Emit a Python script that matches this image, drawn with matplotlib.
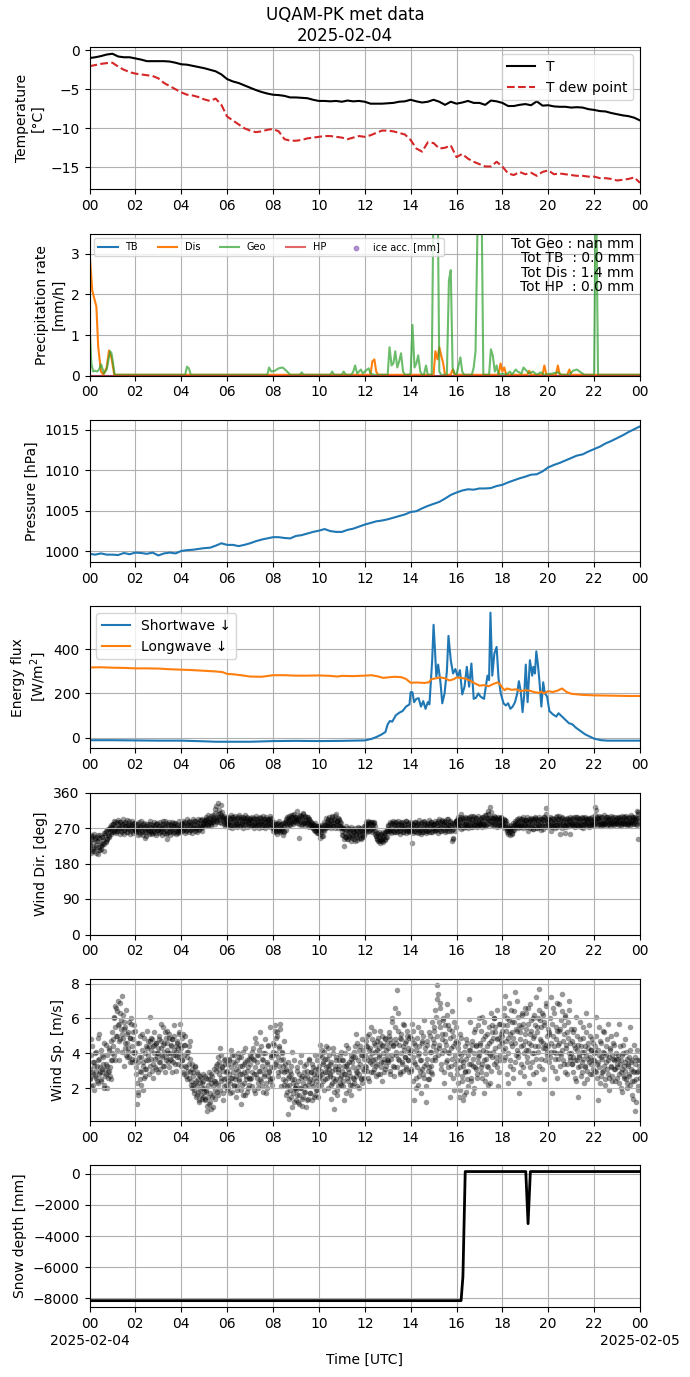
import numpy as np
import pandas as pd
import matplotlib
matplotlib.use("Agg")
import matplotlib.pyplot as plt
import matplotlib.dates as mdates

# ---------------- DATA ----------------
day_start = "2025-02-04"
title = "UQAM-PK met data\n2025-02-04"
date_labels = ["2025-02-04", "2025-02-05"]

# Temperature & dew point, every 15 minutes (°C)
temp = [-1.0, -0.9, -0.75, -0.55, -0.45, -0.8, -0.9, -0.9, -1.05, -1.2, -1.4, -1.4, -1.4, -1.4, -1.45, -1.6,
        -1.8, -1.85, -2.0, -2.15, -2.3, -2.5, -2.7, -3.1, -3.7, -4.0, -4.2, -4.5, -4.8, -5.1, -5.35, -5.55,
        -5.7, -5.75, -5.85, -6.05, -6.05, -6.1, -6.15, -6.35, -6.5, -6.5, -6.55, -6.5, -6.6, -6.45, -6.55, -6.5,
        -6.6, -6.85, -6.85, -6.85, -6.8, -6.75, -6.6, -6.55, -6.35, -6.55, -6.7, -6.6, -6.35, -6.6, -7.0, -6.6,
        -6.85, -6.7, -6.5, -6.75, -6.75, -7.0, -6.45, -6.55, -6.75, -7.15, -7.15, -7.0, -6.9, -7.05, -6.55, -7.1,
        -7.05, -7.2, -7.25, -7.25, -7.35, -7.3, -7.35, -7.55, -7.65, -7.8, -7.85, -8.05, -8.2, -8.35, -8.45, -8.65,
        -9.0]
dewpoint = [-2.05, -1.9, -1.75, -1.65, -1.6, -2.1, -2.5, -2.8, -3.0, -3.1, -3.2, -3.3, -3.6, -4.2, -4.6, -5.0,
            -5.4, -5.7, -5.8, -6.0, -6.3, -6.5, -6.2, -7.0, -8.5, -9.0, -9.5, -10.0, -10.3, -10.5, -10.4, -10.2,
            -10.1, -10.4, -11.4, -11.6, -11.6, -11.5, -11.3, -11.2, -11.1, -11.0, -11.0, -11.1, -11.2, -11.4, -11.2, -11.0,
            -11.1, -10.9, -10.6, -10.3, -10.3, -10.4, -10.6, -10.8, -11.5, -12.6, -13.0, -11.8, -11.9, -12.6, -12.5, -12.2,
            -13.7, -13.3, -13.9, -14.3, -14.6, -14.9, -14.9, -14.3, -14.9, -15.8, -16.0, -15.6, -15.9, -15.7, -16.1, -15.6,
            -15.4, -15.9, -15.8, -15.9, -16.0, -16.1, -16.1, -16.2, -16.2, -16.4, -16.4, -16.5, -16.7, -16.6, -16.5, -16.3,
            -17.0]

# Precipitation rates (mm/h): (hour, value) points
tb_t = [0.0, 24.0]
tb_v = [0.0, 0.0]
hp_t = [0.0, 24.0]
hp_v = [0.0, 0.0]
ice_t = []
ice_v = []
dis_t = [0.0, 0.12, 0.3, 0.38, 0.5, 0.6, 0.75, 0.85, 0.96, 1.08,
         12.25, 12.33, 12.42, 12.5, 12.58,
         15.0, 15.08, 15.17, 15.25, 15.33, 15.42, 15.5, 15.75, 15.83, 15.92,
         17.83, 17.92, 18.0, 18.08, 18.17, 19.08, 19.17, 19.25, 19.75, 19.83, 19.92,
         20.33, 20.42, 20.5, 20.83, 20.92, 21.0, 24.0]
dis_v = [3.05, 2.1, 1.7, 0.7, 0.1, 0.02, 0.2, 0.62, 0.43, 0.02,
         0.02, 0.35, 0.4, 0.1, 0.02,
         0.02, 0.6, 0.4, 0.7, 0.5, 0.3, 0.02, 0.02, 0.15, 0.02,
         0.02, 0.3, 0.1, 0.2, 0.02, 0.02, 0.12, 0.02, 0.02, 0.25, 0.02,
         0.02, 0.25, 0.02, 0.02, 0.15, 0.02, 0.02]
geo_t = [0.0, 0.08, 0.16, 0.23, 0.33, 0.42, 0.5, 0.58, 0.63, 0.75, 0.83, 0.9, 0.96, 1.1,
         4.17, 4.25, 4.33, 4.42, 7.75, 7.83, 7.92, 8.08, 8.25, 8.42, 8.58, 8.75,
         9.17, 9.25, 9.33, 10.5, 10.58, 10.67, 11.0, 11.08, 11.17, 11.42, 11.5, 11.58, 11.67,
         11.83, 11.92, 12.0, 12.17, 12.25, 12.42, 13.0, 13.08, 13.17, 13.25, 13.33, 13.42,
         13.5, 13.58, 13.67, 13.75, 13.92, 14.0, 14.08, 14.17, 14.25, 14.33, 14.42, 14.5,
         14.58, 14.67, 14.75, 14.92, 15.0, 15.08, 15.17, 15.25, 15.33, 15.58, 15.67, 15.75,
         15.83, 15.92, 16.0, 16.17, 16.25, 16.33, 16.67, 16.75, 16.83, 16.92, 17.0, 17.08,
         17.17, 17.42, 17.5, 17.58, 17.67, 17.75, 17.83, 18.0, 18.17, 18.33, 18.42, 18.58,
         18.67, 18.83, 18.92, 19.0, 19.17, 19.33, 19.5, 19.67, 19.83, 20.17, 20.42, 20.58,
         20.92, 21.08, 21.25, 21.42, 21.58, 22.0, 22.08, 22.17, 24.0]
geo_v = [1.3, 0.3, 0.1, 0.12, 0.1, 0.15, 0.28, 0.15, 0.05, 0.15, 0.4, 0.6, 0.55, 0.02,
         0.02, 0.22, 0.18, 0.02, 0.02, 0.2, 0.1, 0.12, 0.18, 0.2, 0.12, 0.02,
         0.02, 0.08, 0.02, 0.02, 0.1, 0.02, 0.02, 0.1, 0.02, 0.02, 0.1, 0.25, 0.05,
         0.15, 0.05, 0.1, 0.18, 0.05, 0.02, 0.02, 0.7, 0.25, 0.3, 0.6, 0.2,
         0.35, 0.55, 0.1, 0.02, 0.02, 0.05, 1.25, 0.2, 0.3, 0.5, 0.1, 0.02,
         0.02, 0.25, 0.02, 0.02, 4.5, 6.0, 5.0, 0.1, 0.02, 0.02, 2.35, 2.6,
         0.2, 0.05, 0.02, 0.45, 0.1, 0.02, 0.02, 0.2, 0.6, 3.8, 5.0, 5.0,
         0.02, 0.02, 0.65, 0.5, 0.1, 0.25, 0.02, 0.05, 0.02, 0.1, 0.02, 0.15,
         0.1, 0.05, 0.2, 0.15, 0.05, 0.1, 0.02, 0.08, 0.02, 0.05, 0.08, 0.02,
         0.02, 0.12, 0.15, 0.08, 0.02, 0.02, 5.0, 0.02, 0.02]
totals_text = "Tot Geo : nan mm\nTot TB  : 0.0 mm\nTot Dis : 1.4 mm\nTot HP  : 0.0 mm"

# Pressure every 15 minutes (hPa)
pressure = [999.7, 999.6, 999.75, 999.6, 999.6, 999.55, 999.8, 999.65, 999.85, 999.8, 999.7, 999.85, 999.5, 999.75,
            999.85, 999.75, 1000.05, 1000.15, 1000.2, 1000.3, 1000.4, 1000.45, 1000.7, 1001.0, 1000.8, 1000.8,
            1000.65, 1000.8, 1001.0, 1001.25, 1001.45, 1001.6, 1001.75, 1001.75, 1001.65, 1001.6, 1001.9, 1002.0,
            1002.2, 1002.4, 1002.55, 1002.75, 1002.5, 1002.4, 1002.4, 1002.65, 1002.8, 1003.05, 1003.3, 1003.5,
            1003.7, 1003.8, 1003.95, 1004.15, 1004.35, 1004.55, 1004.85, 1004.95, 1005.3, 1005.6, 1005.85, 1006.1,
            1006.5, 1006.95, 1007.25, 1007.5, 1007.65, 1007.6, 1007.75, 1007.75, 1007.8, 1008.05, 1008.2, 1008.5,
            1008.75, 1009.0, 1009.2, 1009.45, 1009.5, 1009.85, 1010.35, 1010.65, 1010.9, 1011.2, 1011.5, 1011.8,
            1011.95, 1012.3, 1012.6, 1012.9, 1013.3, 1013.6, 1013.95, 1014.3, 1014.7, 1015.05, 1015.4]

# Radiation (W/m2): (hour, value)
sw_t = [0, 1, 2, 3, 4, 5, 5.5, 6, 7, 8, 9, 10, 11, 12, 12.3, 12.5, 12.7, 12.9, 13.0, 13.1, 13.2, 13.35,
        13.5, 13.65, 13.8, 13.95, 14.0, 14.08, 14.15, 14.25, 14.35, 14.45, 14.55, 14.65, 14.75, 14.82,
        14.88, 14.94, 15.0, 15.06, 15.12, 15.2, 15.3, 15.38, 15.48, 15.58, 15.65, 15.75, 15.85, 15.95,
        16.05, 16.15, 16.25, 16.35, 16.45, 16.55, 16.65, 16.75, 16.85, 16.95, 17.05, 17.2, 17.35, 17.42,
        17.48, 17.56, 17.65, 17.75, 17.83, 17.93, 18.05, 18.15, 18.25, 18.35, 18.45, 18.55, 18.65, 18.72,
        18.8, 18.88, 18.95, 19.02, 19.1, 19.2, 19.3, 19.35, 19.42, 19.48, 19.55, 19.62, 19.7, 19.78, 19.85,
        19.95, 20.05, 20.2, 20.35, 20.45, 20.6, 20.75, 20.9, 21.05, 21.2, 21.4, 21.6, 21.8, 22.0, 22.3,
        22.6, 23.0, 23.5, 24.0]
sw_v = [-12, -12, -13, -14, -14, -17, -19, -19, -19, -16, -15, -16, -15, -13, -6, 2, 12, 25, 60, 75, 72, 100,
        112, 120, 140, 150, 205, 205, 160, 175, 178, 140, 165, 130, 160, 150,
        250, 350, 510, 400, 275, 330, 250, 155, 200, 300, 460, 350, 290, 310,
        275, 305, 195, 230, 320, 230, 335, 175, 180, 200, 185, 175, 280, 260,
        565, 280, 380, 410, 270, 200, 155, 145, 155, 130, 140, 160, 200, 255,
        210, 115, 190, 330, 160, 350, 280, 320, 290, 390, 330, 250, 140, 250, 200,
        185, 120, 105, 95, 110, 95, 80, 65, 60, 45, 30, 15, 5, -5, -12,
        -14, -14, -14, -14]
lw_t = [0, 0.5, 1, 1.5, 2, 2.5, 3, 3.5, 4, 4.5, 5, 5.5, 5.8, 6, 6.3, 6.6, 7, 7.5, 7.8, 8, 8.5, 9, 9.5, 10,
        10.5, 10.8, 11, 11.5, 12, 12.3, 12.6, 12.8, 13.0, 13.3, 13.6, 13.8, 14.0, 14.3, 14.6, 14.8, 14.9,
        15.1, 15.3, 15.5, 15.7, 15.9, 16.0, 16.2, 16.4, 16.6, 16.8, 17.0, 17.2, 17.4, 17.6, 17.8, 17.9,
        18.0, 18.1, 18.2, 18.4, 18.6, 18.8, 19.0, 19.2, 19.4, 19.6, 19.7, 19.8, 20.0, 20.2, 20.4, 20.6,
        20.8, 21.0, 21.5, 22, 22.5, 23, 23.5, 24]
lw_v = [317, 318, 316, 315, 313, 313, 312, 309, 307, 305, 302, 299, 296, 288, 286, 282, 276, 275, 279, 282,
        282, 280, 280, 281, 279, 276, 279, 278, 280, 282, 276, 270, 272, 275, 273, 265, 248, 249, 247, 250,
        264, 268, 272, 268, 258, 265, 272, 270, 266, 257, 245, 235, 237, 232, 242, 250, 240, 225, 214, 222,
        216, 218, 210, 214, 212, 205, 202, 208, 200, 210, 206, 212, 222, 206, 198, 193, 191, 190, 189, 188, 188]

# Wind, one row per hour: "a" rows at even minutes, "b" rows at odd minutes (30 values each)
wind_dir_a = [
    [238, 225, 246, 212, 233, 250, 219, 241, 228, 207, 236, 252, 222, 244, 215, 230, 248, 226, 240, 211, 257, 235, 262, 243, 251, 268, 247, 259, 270, 262],
    [272, 281, 265, 276, 284, 270, 262, 279, 273, 268, 286, 275, 259, 271, 280, 266, 274, 283, 269, 261, 277, 272, 288, 267, 275, 264, 279, 270, 282, 266],
    [270, 263, 276, 268, 281, 259, 272, 266, 274, 261, 278, 269, 264, 245, 271, 260, 275, 267, 279, 263, 270, 258, 273, 266, 262, 276, 269, 280, 265, 271],
    [266, 274, 260, 271, 279, 268, 262, 275, 270, 287, 264, 243, 258, 277, 269, 263, 281, 271, 266, 274, 260, 283, 268, 272, 265, 278, 262, 270, 275, 267],
    [271, 279, 265, 276, 283, 270, 262, 280, 274, 268, 286, 272, 277, 264, 281, 269, 275, 289, 271, 266, 278, 284, 273, 268, 280, 276, 290, 272, 279, 283],
    [280, 287, 292, 283, 291, 278, 289, 284, 293, 281, 290, 286, 298, 291, 318, 296, 326, 290, 333, 299, 293, 307, 329, 297, 296, 291, 284, 292, 287, 281],
    [289, 281, 296, 285, 277, 292, 284, 299, 280, 288, 274, 293, 286, 281, 297, 290, 283, 276, 294, 287, 280, 298, 285, 291, 279, 288, 295, 282, 290, 284],
    [283, 290, 277, 288, 294, 281, 286, 275, 292, 284, 279, 289, 296, 282, 287, 278, 291, 285, 280, 293, 286, 276, 289, 283, 290, 281, 287, 294, 279, 285],
    [275, 268, 279, 264, 272, 281, 267, 274, 262, 277, 270, 266, 279, 273, 261, 276, 282, 288, 279, 295, 286, 293, 291, 284, 297, 289, 303, 293, 287, 299],
    [293, 313, 288, 296, 245, 290, 301, 285, 294, 308, 289, 282, 297, 291, 286, 299, 284, 292, 280, 288, 275, 283, 270, 278, 266, 274, 262, 271, 258, 268],
    [264, 272, 245, 259, 268, 250, 275, 262, 280, 271, 286, 277, 290, 282, 274, 288, 279, 300, 284, 276, 291, 283, 305, 278, 287, 280, 293, 274, 284, 270],
    [262, 251, 270, 224, 257, 246, 265, 253, 241, 260, 249, 268, 255, 244, 262, 250, 259, 238, 266, 254, 247, 261, 252, 270, 257, 245, 263, 256, 249, 266],
    [266, 275, 262, 281, 270, 284, 273, 279, 268, 286, 277, 271, 283, 274, 265, 250, 243, 256, 238, 248, 252, 241, 236, 249, 244, 253, 240, 258, 247, 262],
    [268, 275, 262, 279, 270, 283, 266, 273, 259, 277, 286, 269, 274, 263, 280, 271, 265, 278, 284, 270, 261, 276, 268, 273, 288, 266, 272, 279, 263, 275],
    [273, 266, 231, 278, 270, 262, 285, 274, 268, 257, 279, 271, 264, 282, 275, 260, 269, 287, 272, 266, 278, 263, 274, 281, 268, 276, 259, 284, 271, 277],
    [270, 279, 265, 283, 274, 268, 288, 276, 262, 281, 273, 290, 269, 277, 284, 266, 275, 292, 271, 280, 263, 278, 286, 272, 237, 267, 245, 281, 274, 289],
    [281, 290, 276, 286, 294, 279, 305, 284, 271, 293, 287, 278, 296, 283, 275, 289, 298, 280, 286, 273, 291, 284, 300, 277, 288, 295, 282, 276, 290, 285],
    [286, 279, 293, 284, 298, 281, 290, 275, 302, 287, 294, 312, 283, 291, 322, 288, 296, 285, 292, 280, 289, 297, 284, 291, 278, 293, 286, 281, 295, 288],
    [284, 278, 291, 282, 275, 289, 280, 271, 264, 259, 268, 262, 256, 270, 265, 274, 281, 277, 286, 279, 291, 283, 274, 288, 280, 276, 293, 284, 279, 287],
    [281, 290, 274, 285, 262, 279, 288, 276, 293, 281, 268, 286, 277, 296, 283, 270, 289, 281, 275, 292, 284, 266, 279, 290, 283, 298, 276, 320, 287, 282],
    [284, 278, 291, 262, 286, 279, 293, 282, 274, 289, 285, 300, 277, 292, 283, 256, 288, 280, 295, 284, 276, 290, 258, 286, 281, 294, 279, 287, 255, 290],
    [286, 279, 293, 283, 275, 290, 285, 298, 281, 288, 276, 292, 284, 280, 296, 287, 271, 289, 283, 294, 279, 286, 291, 282, 277, 295, 288, 284, 292, 280],
    [289, 322, 315, 284, 293, 287, 280, 296, 289, 283, 298, 285, 291, 279, 294, 287, 283, 297, 290, 285, 280, 293, 288, 284, 296, 282, 291, 287, 294, 283],
    [288, 282, 295, 286, 291, 279, 293, 287, 284, 297, 289, 283, 292, 286, 280, 295, 288, 284, 291, 298, 285, 290, 282, 294, 287, 292, 312, 241, 305, 289],
]
wind_dir_b = [
    [228, 251, 206, 241, 217, 255, 212, 244, 221, 248, 203, 236, 214, 252, 225, 218, 247, 233, 258, 229, 253, 238, 264, 242, 268, 250, 273, 255, 277, 260],
    [281, 261, 289, 266, 257, 284, 263, 291, 270, 255, 286, 262, 279, 293, 265, 254, 284, 276, 259, 290, 268, 283, 256, 278, 262, 288, 275, 258, 282, 267],
    [259, 280, 264, 252, 284, 273, 256, 287, 262, 279, 253, 283, 260, 276, 250, 281, 266, 255, 287, 263, 279, 254, 277, 261, 286, 257, 280, 251, 283, 264],
    [276, 257, 284, 262, 252, 280, 288, 258, 275, 283, 255, 263, 281, 259, 286, 253, 278, 263, 285, 257, 274, 282, 254, 279, 261, 258, 287, 266, 260, 281],
    [282, 262, 289, 268, 258, 286, 265, 293, 279, 261, 288, 264, 284, 267, 257, 292, 281, 263, 288, 270, 261, 294, 283, 266, 290, 271, 262, 293, 274, 289],
    [290, 276, 298, 281, 302, 277, 296, 283, 275, 300, 285, 304, 295, 279, 309, 288, 284, 306, 297, 316, 286, 303, 282, 310, 299, 280, 301, 276, 295, 279],
    [280, 298, 273, 294, 302, 278, 271, 297, 292, 275, 301, 281, 272, 296, 279, 303, 275, 294, 299, 279, 270, 296, 277, 302, 292, 273, 298, 281, 274, 295],
    [293, 274, 299, 278, 271, 296, 280, 301, 275, 294, 277, 270, 298, 279, 295, 273, 301, 277, 293, 271, 299, 278, 294, 274, 292, 300, 272, 295, 278, 269],
    [263, 284, 259, 281, 262, 255, 283, 264, 287, 259, 280, 262, 252, 282, 263, 286, 266, 292, 298, 275, 301, 281, 277, 303, 282, 299, 279, 305, 284, 294],
    [297, 282, 291, 300, 281, 302, 277, 298, 280, 306, 282, 276, 301, 283, 279, 299, 273, 294, 277, 284, 275, 280, 271, 277, 262, 282, 265, 274, 257, 276],
    [274, 254, 278, 249, 272, 266, 285, 277, 270, 296, 274, 294, 272, 299, 278, 270, 290, 297, 274, 293, 271, 300, 278, 287, 295, 269, 291, 274, 282, 272],
    [252, 271, 243, 267, 248, 274, 241, 265, 269, 246, 263, 238, 272, 249, 267, 242, 259, 269, 252, 239, 265, 272, 245, 262, 270, 243, 266, 247, 274, 251],
    [276, 284, 259, 279, 288, 262, 282, 265, 286, 260, 280, 285, 263, 256, 249, 241, 257, 236, 260, 239, 233, 256, 240, 261, 235, 257, 242, 263, 247, 266],
    [278, 260, 285, 264, 257, 282, 262, 287, 279, 259, 265, 284, 261, 289, 281, 263, 256, 283, 278, 260, 285, 264, 280, 258, 287, 263, 282, 265, 261, 284],
    [263, 283, 257, 280, 262, 286, 278, 259, 282, 264, 290, 261, 279, 255, 284, 265, 260, 286, 280, 263, 257, 283, 264, 291, 261, 279, 285, 259, 281, 264],
    [281, 262, 288, 265, 283, 258, 292, 267, 285, 262, 281, 289, 264, 284, 259, 287, 280, 263, 293, 270, 278, 288, 262, 283, 265, 242, 280, 286, 263, 289],
    [290, 272, 297, 277, 293, 268, 298, 275, 295, 279, 273, 299, 280, 276, 296, 271, 294, 278, 301, 275, 292, 273, 298, 279, 277, 295, 272, 300, 280, 275],
    [277, 296, 279, 273, 299, 281, 278, 302, 275, 295, 280, 305, 296, 279, 311, 298, 277, 295, 275, 300, 280, 296, 273, 293, 299, 278, 295, 276, 297, 279],
    [275, 293, 270, 290, 273, 266, 260, 255, 276, 252, 271, 278, 257, 274, 283, 265, 289, 273, 294, 276, 270, 295, 278, 273, 292, 275, 297, 271, 291, 274],
    [291, 272, 298, 275, 293, 270, 289, 296, 273, 292, 267, 290, 297, 274, 293, 271, 291, 298, 277, 273, 294, 275, 268, 292, 299, 276, 294, 306, 273, 292],
    [293, 275, 299, 278, 272, 296, 276, 293, 271, 298, 278, 273, 294, 277, 300, 274, 292, 270, 297, 279, 275, 294, 277, 273, 296, 278, 293, 274, 298, 279],
    [277, 295, 274, 297, 279, 272, 299, 278, 294, 275, 296, 277, 273, 298, 280, 276, 295, 279, 299, 274, 293, 278, 296, 273, 294, 279, 276, 297, 281, 278],
    [294, 302, 279, 297, 277, 295, 300, 280, 275, 298, 281, 278, 303, 283, 279, 297, 277, 294, 299, 280, 276, 301, 283, 279, 297, 281, 278, 298, 282, 296],
    [280, 297, 278, 299, 282, 276, 301, 283, 279, 297, 281, 300, 277, 296, 280, 298, 282, 278, 302, 281, 297, 279, 295, 299, 280, 296, 278, 310, 282, 298],
]
wind_speed_a = [
    [3.1, 2.6, 4.8, 2.9, 3.5, 2.2, 3.3, 2.7, 4.1, 3.0, 2.4, 3.6, 2.8, 5.1, 3.2, 2.5, 3.9, 2.9, 3.4, 2.0, 3.1, 4.5, 2.8, 3.3, 2.6, 4.2, 3.0, 2.7, 4.7, 3.6],
    [5.2, 4.8, 6.1, 5.5, 3.6, 6.6, 5.0, 7.0, 5.7, 4.7, 6.3, 5.4, 7.3, 5.1, 4.9, 5.8, 4.3, 5.5, 3.9, 4.6, 5.2, 4.1, 3.8, 4.9, 5.7, 4.4, 3.5, 4.8, 4.0, 5.3],
    [4.1, 2.8, 1.1, 3.5, 1.8, 4.6, 3.0, 2.2, 3.8, 5.1, 3.3, 2.6, 4.0, 3.1, 3.6, 4.3, 4.7, 3.9, 4.4, 6.1, 3.7, 4.2, 4.8, 3.4, 4.5, 4.0, 3.2, 4.6, 3.8, 4.3],
    [4.0, 4.8, 3.5, 4.3, 5.7, 3.9, 4.5, 3.3, 4.1, 5.2, 3.8, 4.6, 4.2, 3.5, 4.9, 4.0, 3.6, 4.4, 4.8, 3.9, 4.2, 5.0, 3.4, 4.1, 4.6, 3.8, 4.3, 5.1, 5.7, 4.0],
    [4.3, 3.6, 5.1, 3.9, 2.8, 4.5, 3.2, 3.8, 2.5, 4.1, 3.4, 2.9, 4.7, 2.4, 3.1, 2.2, 2.7, 1.9, 3.2, 2.4, 1.6, 2.1, 2.8, 1.3, 2.3, 1.9, 2.6, 2.0, 1.5, 2.4],
    [2.0, 1.4, 2.6, 1.8, 0.7, 2.2, 1.1, 2.5, 1.7, 2.8, 1.5, 2.1, 0.9, 2.4, 1.9, 3.0, 2.3, 3.4, 1.6, 2.8, 3.1, 4.3, 2.6, 3.3, 1.3, 3.0, 2.5, 3.7, 2.9, 2.2],
    [3.0, 2.4, 3.6, 2.8, 1.7, 3.2, 2.6, 3.9, 2.9, 2.1, 3.4, 2.7, 3.1, 1.9, 3.0, 2.5, 3.8, 2.8, 1.1, 3.3, 2.2, 4.1, 2.9, 1.6, 3.5, 2.7, 3.0, 2.0, 3.7, 2.6],
    [3.4, 2.6, 4.1, 2.9, 3.7, 1.9, 3.2, 4.9, 2.8, 3.5, 2.3, 3.9, 3.0, 2.5, 4.4, 3.3, 2.1, 3.6, 2.8, 4.0, 3.1, 1.7, 3.4, 2.7, 4.5, 3.0, 2.4, 3.8, 3.2, 2.6],
    [3.9, 4.5, 5.6, 3.4, 4.9, 5.2, 3.8, 2.7, 4.3, 5.7, 3.6, 2.1, 4.0, 3.3, 4.7, 2.9, 2.4, 3.1, 1.8, 2.6, 0.5, 2.2, 3.0, 1.5, 2.8, 4.1, 2.3, 1.2, 2.5, 2.0],
    [2.2, 1.6, 3.0, 2.4, 1.1, 2.0, 3.9, 2.6, 1.4, 2.3, 2.9, 1.8, 2.1, 3.4, 1.3, 2.7, 2.2, 3.6, 2.5, 1.7, 2.9, 2.3, 3.2, 1.5, 2.6, 3.9, 2.4, 2.8, 1.9, 3.1],
    [3.3, 2.7, 4.5, 3.0, 3.8, 2.4, 3.5, 4.1, 2.9, 3.2, 3.7, 2.6, 4.3, 3.1, 2.8, 3.4, 2.2, 3.0, 4.3, 2.6, 0.8, 3.1, 2.5, 3.6, 1.9, 2.9, 3.3, 2.3, 3.9, 2.7],
    [3.0, 2.4, 3.6, 1.3, 2.8, 3.3, 4.5, 2.6, 3.1, 1.9, 3.5, 2.7, 3.9, 2.2, 3.2, 3.8, 2.5, 4.4, 3.0, 5.1, 2.9, 3.6, 2.0, 4.2, 3.4, 2.6, 3.9, 4.8, 3.1, 3.7],
    [3.9, 4.4, 3.2, 5.0, 3.6, 2.4, 4.2, 3.8, 5.5, 3.4, 4.0, 2.9, 4.6, 3.7, 4.1, 3.3, 4.7, 2.8, 4.3, 3.9, 5.3, 3.5, 4.5, 2.4, 4.0, 3.7, 4.8, 3.1, 4.2, 3.6],
    [4.3, 3.6, 5.0, 2.8, 4.6, 6.0, 3.9, 4.4, 3.2, 6.6, 4.8, 4.1, 7.6, 3.7, 5.3, 4.5, 2.9, 4.0, 4.8, 3.5, 5.7, 4.2, 3.8, 4.6, 3.1, 5.0, 4.3, 3.6, 4.9, 4.0],
    [4.2, 3.1, 5.7, 3.8, 1.3, 4.6, 3.4, 2.6, 4.9, 3.9, 2.2, 4.4, 3.0, 5.2, 3.6, 4.7, 2.8, 3.3, 5.9, 4.0, 1.2, 3.7, 4.5, 2.5, 3.2, 5.0, 4.1, 2.9, 3.6, 4.8],
    [4.6, 5.3, 3.8, 6.1, 7.9, 5.0, 7.4, 4.3, 6.6, 5.5, 3.1, 4.8, 6.0, 4.2, 2.3, 5.1, 4.5, 6.8, 3.6, 5.6, 4.0, 1.5, 4.9, 3.3, 5.3, 4.4, 2.6, 5.8, 3.9, 4.7],
    [3.6, 2.8, 4.3, 1.5, 3.2, 5.1, 3.9, 2.4, 1.3, 3.5, 4.1, 2.9, 3.7, 1.8, 4.6, 3.0, 3.4, 7.1, 4.2, 2.6, 4.7, 3.3, 1.7, 4.0, 5.4, 3.1, 4.5, 2.8, 3.8, 6.0],
    [3.9, 4.6, 2.9, 6.1, 3.4, 4.2, 1.7, 5.0, 3.7, 2.8, 4.4, 3.2, 5.5, 4.0, 2.3, 4.7, 5.6, 3.8, 4.9, 6.0, 4.3, 5.2, 3.5, 4.8, 2.1, 5.7, 4.4, 3.9, 5.1, 4.6],
    [5.0, 4.2, 6.2, 3.8, 7.3, 4.7, 5.6, 2.3, 4.9, 5.9, 3.6, 6.5, 4.4, 5.2, 3.1, 5.8, 4.6, 7.5, 3.9, 5.3, 6.1, 4.0, 1.7, 4.8, 5.5, 3.4, 6.3, 4.5, 2.7, 5.1],
    [4.7, 5.4, 3.8, 6.6, 4.2, 2.3, 5.1, 4.5, 5.9, 3.5, 4.9, 6.2, 4.0, 5.6, 2.9, 5.2, 4.4, 6.0, 7.7, 4.8, 5.5, 3.7, 6.3, 4.6, 2.5, 5.8, 4.3, 6.9, 5.0, 4.1],
    [4.4, 5.1, 3.8, 7.2, 4.6, 1.7, 5.0, 4.1, 6.3, 3.7, 4.8, 5.3, 2.6, 4.5, 6.8, 4.0, 5.4, 3.9, 7.4, 4.7, 5.6, 3.4, 6.1, 4.3, 2.8, 5.2, 4.9, 6.5, 3.6, 4.6],
    [4.0, 3.4, 5.2, 3.8, 4.5, 2.6, 6.1, 3.6, 4.2, 1.5, 3.9, 4.8, 3.3, 4.4, 2.9, 5.5, 3.7, 4.1, 3.2, 6.3, 3.9, 2.5, 4.3, 3.5, 5.0, 3.8, 4.2, 2.8, 3.6, 4.6],
    [3.6, 4.1, 2.9, 6.1, 3.4, 1.3, 3.9, 3.2, 4.7, 2.7, 3.7, 5.3, 3.0, 4.0, 2.2, 3.5, 4.4, 3.1, 5.7, 3.8, 2.6, 4.2, 3.3, 3.9, 2.4, 4.6, 3.6, 3.1, 5.1, 3.7],
    [3.2, 3.7, 2.8, 5.7, 3.4, 2.0, 3.9, 3.1, 4.5, 2.6, 3.5, 3.0, 4.1, 2.3, 3.3, 3.8, 2.7, 5.5, 3.1, 2.4, 3.6, 1.4, 2.9, 0.7, 3.4, 2.5, 4.2, 3.0, 1.9, 3.6],
]
wind_speed_b = [
    [2.5, 3.9, 2.1, 4.4, 2.8, 3.5, 1.9, 4.0, 2.6, 3.3, 4.9, 2.3, 3.7, 2.9, 4.2, 2.4, 3.1, 3.8, 2.2, 4.6, 2.7, 3.4, 2.0, 3.9, 2.9, 4.3, 3.2, 2.5, 3.6, 4.0],
    [4.4, 6.0, 3.9, 6.7, 5.0, 4.2, 6.4, 5.6, 3.6, 6.9, 4.8, 5.9, 4.1, 6.2, 3.3, 5.4, 4.6, 6.5, 3.8, 5.1, 4.3, 5.8, 3.5, 4.9, 6.0, 3.7, 5.2, 4.1, 5.6, 3.6],
    [3.2, 4.6, 2.3, 1.6, 3.8, 2.5, 5.0, 2.9, 4.2, 1.9, 3.5, 4.9, 2.7, 4.4, 3.1, 5.3, 3.6, 2.8, 4.7, 3.3, 4.9, 3.0, 4.4, 2.6, 5.2, 3.7, 4.6, 3.1, 4.0, 2.9],
    [3.5, 5.0, 3.1, 4.7, 3.8, 5.5, 3.3, 4.6, 2.9, 4.9, 3.6, 5.3, 4.0, 3.2, 5.1, 3.7, 4.5, 2.9, 4.8, 3.5, 5.6, 3.9, 4.4, 3.0, 4.7, 3.4, 5.2, 3.8, 4.5, 3.3],
    [3.6, 4.9, 2.9, 4.5, 3.3, 5.0, 2.7, 4.1, 3.0, 4.4, 2.6, 3.7, 2.2, 3.4, 2.0, 2.9, 1.7, 3.3, 2.3, 1.5, 2.9, 1.8, 2.5, 1.2, 2.7, 1.6, 2.3, 1.4, 2.8, 1.8],
    [1.3, 2.7, 1.9, 1.0, 2.5, 1.5, 2.9, 1.2, 2.3, 0.8, 2.7, 1.6, 3.1, 1.4, 2.4, 3.3, 1.8, 3.8, 2.2, 3.5, 1.9, 3.9, 2.4, 3.2, 1.7, 3.6, 2.1, 3.4, 2.6, 1.9],
    [3.4, 2.0, 3.7, 2.3, 4.2, 2.6, 1.8, 3.5, 2.2, 3.9, 2.5, 1.5, 3.6, 2.1, 4.0, 2.4, 3.3, 1.9, 3.8, 2.8, 1.6, 3.4, 2.3, 4.3, 2.5, 3.6, 1.8, 3.2, 2.2, 3.9],
    [2.5, 3.8, 2.1, 4.3, 2.8, 3.6, 1.7, 4.6, 2.6, 3.9, 2.0, 4.2, 3.0, 5.2, 2.4, 3.7, 1.8, 4.0, 2.7, 4.8, 2.3, 3.5, 2.0, 4.4, 2.9, 5.5, 2.5, 3.9, 2.2, 4.1],
    [4.6, 3.2, 5.3, 4.0, 3.5, 5.0, 2.9, 4.4, 3.3, 5.4, 3.0, 4.1, 2.5, 3.7, 2.2, 3.4, 1.6, 3.0, 2.1, 3.5, 1.4, 2.7, 1.9, 3.3, 0.9, 2.5, 1.7, 3.6, 2.0, 1.3],
    [1.9, 3.2, 1.2, 2.8, 1.6, 3.5, 2.0, 1.0, 2.7, 1.5, 3.3, 1.8, 2.6, 0.9, 3.0, 1.4, 2.4, 3.7, 1.7, 2.9, 1.3, 3.4, 2.1, 2.8, 1.6, 3.1, 1.9, 3.6, 2.2, 1.5],
    [2.6, 3.9, 2.2, 4.2, 2.8, 3.4, 1.9, 3.7, 2.5, 4.4, 2.9, 3.3, 2.0, 3.9, 2.7, 1.4, 3.5, 2.3, 4.0, 1.8, 3.3, 2.4, 3.8, 1.6, 3.1, 2.1, 3.6, 2.6, 4.1, 2.2],
    [3.6, 2.1, 3.3, 2.8, 4.0, 1.7, 3.4, 2.4, 4.3, 2.9, 2.2, 3.7, 1.6, 3.5, 2.6, 4.1, 2.3, 3.8, 2.7, 4.6, 2.1, 3.2, 2.8, 4.4, 2.5, 3.9, 2.3, 4.2, 3.0, 2.6],
    [3.3, 4.7, 3.0, 4.4, 2.6, 5.1, 3.5, 4.3, 2.9, 4.8, 3.6, 5.3, 3.1, 4.5, 2.7, 4.2, 3.4, 4.9, 3.8, 2.8, 4.6, 3.2, 5.0, 3.5, 4.4, 2.9, 4.9, 3.3, 4.6, 3.9],
    [3.5, 5.2, 3.0, 4.8, 3.7, 5.8, 3.3, 4.5, 2.7, 5.5, 3.9, 4.6, 3.2, 6.3, 3.6, 4.9, 2.8, 5.1, 3.4, 4.4, 3.0, 5.6, 3.8, 4.7, 3.2, 5.3, 3.6, 4.1, 2.9, 5.0],
    [3.0, 4.8, 2.4, 5.3, 3.5, 4.5, 2.0, 4.2, 3.2, 5.5, 2.7, 4.0, 3.6, 1.7, 4.6, 3.1, 5.0, 2.6, 4.3, 3.4, 2.1, 4.7, 3.0, 5.2, 2.5, 4.1, 3.3, 5.8, 2.8, 4.4],
    [5.5, 3.6, 6.5, 4.2, 7.1, 3.9, 5.8, 4.5, 6.9, 3.4, 5.1, 4.0, 5.9, 2.9, 4.7, 5.6, 3.5, 6.2, 4.1, 3.2, 5.4, 2.8, 4.3, 6.4, 3.7, 5.0, 1.9, 4.6, 3.4, 5.5],
    [3.1, 4.6, 2.3, 4.0, 1.9, 3.6, 4.9, 2.7, 3.3, 1.6, 4.4, 3.0, 4.8, 2.5, 3.9, 2.1, 4.2, 5.8, 3.4, 2.4, 4.5, 3.7, 2.0, 5.2, 3.2, 4.4, 2.6, 5.6, 3.5, 4.1],
    [4.5, 3.2, 5.3, 2.6, 4.8, 3.6, 5.8, 2.4, 4.1, 3.3, 5.1, 2.2, 4.6, 3.9, 6.3, 3.0, 5.2, 4.1, 6.0, 3.4, 5.5, 3.8, 6.5, 3.2, 4.9, 2.9, 5.7, 3.6, 4.7, 5.3],
    [5.6, 3.6, 6.6, 4.3, 5.3, 2.8, 6.0, 4.0, 6.9, 3.3, 5.1, 4.6, 5.8, 2.6, 4.9, 6.4, 3.5, 5.4, 4.2, 7.0, 3.8, 5.6, 2.9, 5.2, 4.4, 6.2, 3.2, 5.7, 4.0, 6.6],
    [4.2, 6.3, 3.5, 5.7, 4.6, 6.8, 3.2, 5.3, 4.0, 6.0, 2.8, 5.0, 4.4, 7.2, 3.7, 5.5, 4.1, 6.5, 3.3, 5.9, 4.7, 3.1, 6.2, 4.3, 5.6, 3.6, 6.7, 4.5, 3.9, 5.4],
    [5.2, 3.5, 6.0, 4.1, 5.7, 3.2, 6.6, 4.4, 3.0, 5.5, 4.0, 6.9, 3.7, 5.3, 4.6, 3.3, 5.9, 4.2, 6.4, 3.6, 5.1, 2.9, 6.2, 4.5, 3.4, 5.8, 4.0, 7.0, 3.8, 5.4],
    [3.4, 4.7, 2.9, 5.4, 3.6, 4.3, 2.4, 5.0, 3.2, 4.5, 3.8, 5.8, 2.7, 4.1, 3.5, 4.9, 2.3, 4.4, 3.3, 5.2, 3.0, 4.6, 3.7, 5.6, 2.8, 4.2, 3.4, 4.8, 3.1, 4.0],
    [4.4, 3.0, 5.0, 2.6, 4.2, 3.5, 5.5, 2.3, 3.8, 4.6, 2.9, 4.1, 3.3, 5.2, 2.5, 3.9, 4.8, 2.8, 3.6, 1.9, 4.3, 3.2, 5.0, 2.7, 3.7, 4.5, 3.1, 2.4, 4.0, 3.4],
    [2.6, 3.9, 2.3, 4.4, 2.9, 3.6, 1.8, 4.0, 2.7, 3.3, 4.8, 2.5, 3.7, 2.0, 3.4, 2.8, 4.2, 2.2, 3.5, 1.6, 3.0, 4.5, 2.4, 3.8, 1.2, 2.9, 3.6, 2.1, 3.3, 2.6],
]

# Snow depth (mm): (hour, value)
snow_t = [0.0, 16.2, 16.28, 16.38, 19.02, 19.12, 19.22, 24.0]
snow_v = [-8150, -8150, -6600, 150, 150, -3200, 150, 150]

# ---------------- PLOT ----------------
base = pd.Timestamp(day_start)
def to_time(hours):
    return base + pd.to_timedelta(np.asarray(hours, dtype=float), unit="h")

t15 = to_time(np.arange(len(temp)) * 0.25)
n_a = sum(len(r) for r in wind_dir_a)
t_a = to_time(np.arange(n_a) * (2.0 / 60.0))
t_b = to_time(np.arange(n_a) * (2.0 / 60.0) + 1.0 / 60.0)
t_wind = t_a.append(t_b)
wd = np.concatenate([np.concatenate([np.asarray(r, float) for r in wind_dir_a]),
                     np.concatenate([np.asarray(r, float) for r in wind_dir_b])])
ws = np.concatenate([np.concatenate([np.asarray(r, float) for r in wind_speed_a]),
                     np.concatenate([np.asarray(r, float) for r in wind_speed_b])])

W, H = 690, 1377
fig = plt.figure(figsize=(W / 100, H / 100), dpi=100)
left_px, right_px = 89.5, 640
height_px, pitch_px, top0 = 142, 186.3, 47.3
axes = []
for i in range(7):
    top = top0 + i * pitch_px
    ax = fig.add_axes([left_px / W, 1 - (top + height_px) / H, (right_px - left_px) / W, height_px / H])
    axes.append(ax)

fig.suptitle(title, x=0.5, y=1 - 6 / H, va="top", fontsize=12)

xmin, xmax = base, base + pd.Timedelta(hours=24)

for i, ax in enumerate(axes):
    ax.set_xlim(xmin, xmax)
    ax.xaxis.set_major_locator(mdates.HourLocator(byhour=range(0, 24, 2)))
    ax.xaxis.set_major_formatter(mdates.DateFormatter("%H"))
    ax.grid(True)

# 1. Temperature
ax = axes[0]
ax.plot(t15, temp, color="k", label="T")
ax.plot(t15, dewpoint, color="tab:red", linestyle="--", label="T dew point")
ax.set_ylabel("Temperature\n[°C]")
ax.legend(loc="upper right")

# 2. Precipitation
ax = axes[1]
ax.plot(to_time(tb_t), tb_v, color="tab:blue", label="TB")
ax.plot(to_time(dis_t), dis_v, color="tab:orange", label="Dis")
ax.plot(to_time(geo_t), geo_v, color="tab:green", alpha=0.7, label="Geo")
ax.plot(to_time(hp_t), hp_v, color="tab:red", alpha=0.7, label="HP")
ax.scatter(to_time(ice_t), ice_v, color="tab:purple", alpha=0.7, s=10, label="ice acc. [mm]")
ax.set_ylim(0, 3.5)
ax.set_yticks([0, 1, 2, 3])
ax.set_ylabel("Precipitation rate\n[mm/h]")
ax.legend(loc="upper left", ncol=5, fontsize=7)
ax.text(0.99, 0.975, totals_text, transform=ax.transAxes, ha="right", va="top",
        fontsize=10, linespacing=1.03)

# 3. Pressure
ax = axes[2]
ax.plot(t15, pressure, color="tab:blue")
ax.set_ylabel("Pressure [hPa]")
ax.set_yticks([1000, 1005, 1010, 1015])

# 4. Energy flux
ax = axes[3]
ax.plot(to_time(sw_t), sw_v, color="tab:blue", label="Shortwave ↓")
ax.plot(to_time(lw_t), lw_v, color="tab:orange", label="Longwave ↓")
ax.set_yticks([0, 200, 400])
ax.set_ylabel("Energy flux\n[W/m$^2$]")
ax.legend(loc="upper left")

# 5. Wind direction
ax = axes[4]
ax.scatter(t_wind, wd, color="k", alpha=0.4, s=16, linewidths=0)
ax.set_ylim(0, 360)
ax.set_yticks([0, 90, 180, 270, 360])
ax.set_ylabel("Wind Dir. [deg]")

# 6. Wind speed
ax = axes[5]
ax.scatter(t_wind, ws, color="k", alpha=0.4, s=16, linewidths=0)
ax.set_yticks([2, 4, 6, 8])
ax.set_ylabel("Wind Sp. [m/s]")

# 7. Snow depth
ax = axes[6]
ax.plot(to_time(snow_t), snow_v, color="k", linewidth=2)
ax.set_ylabel("Snow depth [mm]")
ax.set_xlabel("Time [UTC]", labelpad=16)
for xfrac, lab in zip([0.0, 1.0], date_labels):
    ax.annotate(lab, xy=(xfrac, 0), xycoords="axes fraction", xytext=(0, -19.5),
                textcoords="offset points", ha="center", va="top", fontsize=10)

for ax in axes:
    ax.set_xlim(xmin, xmax)

fig.savefig("out.png", dpi=100)
